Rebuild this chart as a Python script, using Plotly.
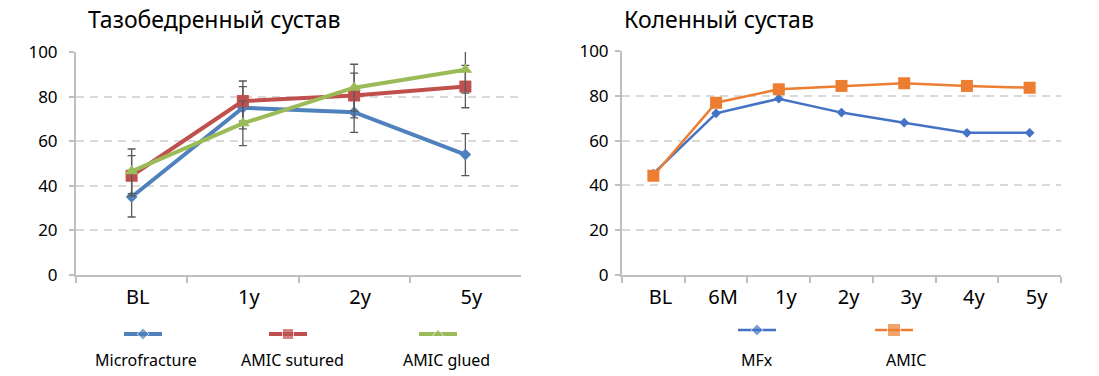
import plotly.graph_objects as go

W, H = 1099, 376

# ---------------- data ----------------
hip_title = "Тазобедренный сустав"
knee_title = "Коленный сустав"

hip_categories = ["BL", "1y", "2y", "5y"]
hip_microfracture = [35, 75, 73, 54]
hip_microfracture_err = [9, 9.5, 9, 9.4]
hip_amic_sutured = [44.5, 78, 80.5, 84.5]
hip_amic_sutured_err = [9, 9, 10, 9.5]
hip_amic_glued = [46.5, 68, 84, 92]
hip_amic_glued_err = [10, 10, 10.5, 10.4]

knee_categories = ["BL", "6M", "1y", "2y", "3y", "4y", "5y"]
knee_mfx = [45.3, 72.2, 78.7, 72.5, 68, 63.5, 63.5]
knee_amic = [44.3, 76.9, 82.9, 84.4, 85.6, 84.4, 83.6]

hip_names = ["Microfracture", "AMIC sutured", "AMIC glued"]
knee_names = ["MFx", "AMIC"]

# ---------------- styles ----------------
FONT = "Noto Sans"
C_BLUE_L, C_RED, C_GREEN = "#4F81BD", "#C0504D", "#9BBB59"
C_BLUE_R, C_ORANGE = "#4472C4", "#ED7D31"
AXIS_C = "#BFBFBF"
GRID_C = "#D9D9D9"
ERR_C = "#595959"

fig = go.Figure()

hip_series = [
    (hip_names[0], hip_microfracture, hip_microfracture_err, C_BLUE_L, "diamond", 9),
    (hip_names[1], hip_amic_sutured, hip_amic_sutured_err, C_RED, "square", 12),
    (hip_names[2], hip_amic_glued, hip_amic_glued_err, C_GREEN, "triangle-up", 12),
]
for name, vals, err, col, sym, sz in hip_series:
    fig.add_trace(go.Scatter(
        x=hip_categories, y=vals, name=name, mode="lines+markers",
        line=dict(color=col, width=4),
        marker=dict(symbol=sym, size=sz, color=col),
        error_y=dict(type="data", array=err, visible=True, color=ERR_C, thickness=1.3, width=4),
        cliponaxis=False, showlegend=False, xaxis="x", yaxis="y",
    ))

knee_series = [
    (knee_names[0], knee_mfx, C_BLUE_R, "diamond", 7.5),
    (knee_names[1], knee_amic, C_ORANGE, "square", 12),
]
for name, vals, col, sym, sz in knee_series:
    fig.add_trace(go.Scatter(
        x=knee_categories, y=vals, name=name, mode="lines+markers",
        line=dict(color=col, width=2.5),
        marker=dict(symbol=sym, size=sz, color=col),
        cliponaxis=False, showlegend=False, xaxis="x2", yaxis="y2",
    ))

# ---------------- custom legends (symbol above text) ----------------
annotations = []
leg_items = [
    (143, 334, 4, C_BLUE_L, "diamond", 9, hip_names[0], 146),
    (288, 334, 4, C_RED, "square", 11, hip_names[1], 292),
    (438, 334, 4, C_GREEN, "triangle-up", 10, hip_names[2], 446),
    (757, 330, 2.5, C_BLUE_R, "diamond", 9, knee_names[0], 757),
    (894, 330, 2.5, C_ORANGE, "square", 13, knee_names[1], 906),
]
for xc, yc, lw, col, sym, sz, label, tx in leg_items:
    fig.add_trace(go.Scatter(
        x=[xc - 19, xc, xc + 19], y=[yc, yc, yc], mode="lines+markers",
        line=dict(color=col, width=lw),
        marker=dict(symbol=sym, size=[0, sz, 0], color=col),
        showlegend=False, hoverinfo="skip", xaxis="x3", yaxis="y3",
    ))
    annotations.append(dict(
        x=tx / W, y=1 - 360 / H, xref="paper", yref="paper", text=label,
        showarrow=False, xanchor="center", yanchor="middle",
        font=dict(family=FONT, size=16, color="#000000"),
    ))

annotations.append(dict(x=86 / W, y=1 - 19 / H, xref="paper", yref="paper", text=hip_title,
                        showarrow=False, xanchor="left", yanchor="middle",
                        font=dict(family=FONT, size=23, color="#000000")))
annotations.append(dict(x=622 / W, y=1 - 19 / H, xref="paper", yref="paper", text=knee_title,
                        showarrow=False, xanchor="left", yanchor="middle",
                        font=dict(family=FONT, size=23, color="#000000")))


def xax(domain, n, anchor, shift):
    return dict(domain=domain, type="category", range=[-0.5, n - 0.5], anchor=anchor,
                showline=True, linecolor=AXIS_C, linewidth=2, automargin=False,
                ticks="outside", tickson="boundaries", ticklen=6, tickcolor=AXIS_C, tickwidth=2,
                showgrid=False, zeroline=False, fixedrange=True,
                tickfont=dict(family=FONT, size=20, color="#000000"),
                ticklabelshift=shift, ticklabelstandoff=3)


def yax(domain, anchor, standoff):
    return dict(domain=domain, range=[0, 100], dtick=20, tick0=0, anchor=anchor,
                showline=True, linecolor=AXIS_C, linewidth=2, automargin=False,
                ticks="outside", ticklen=5, tickcolor=AXIS_C, tickwidth=2,
                showgrid=True, gridcolor=GRID_C, gridwidth=1.5, griddash="8px,6px",
                zeroline=False, fixedrange=True,
                tickfont=dict(family=FONT, size=17, color="#000000"),
                ticklabelstandoff=standoff)


fig.update_layout(
    width=W, height=H,
    margin=dict(l=0, r=0, t=0, b=0, pad=0, autoexpand=False),
    paper_bgcolor="white", plot_bgcolor="rgba(0,0,0,0)",
    font=dict(family=FONT, color="#000000"),
    xaxis=xax([76 / W, 521 / W], len(hip_categories), "y", 6),
    yaxis=yax([1 - 275 / H, 1 - 52 / H], "x", 8),
    xaxis2=xax([622 / W, 1061 / W], len(knee_categories), "y2", 7),
    yaxis2=yax([1 - 275 / H, 1 - 51 / H], "x2", 3),
    xaxis3=dict(domain=[0, 1], range=[0, W], visible=False, fixedrange=True, anchor="y3",
                automargin=False),
    yaxis3=dict(domain=[0, 1], range=[H, 0], visible=False, fixedrange=True, anchor="x3",
                automargin=False),
    annotations=annotations,
    showlegend=False,
    hovermode=False,
)

fig.write_html(
    "out.html",
    config={"displayModeBar": False},
    post_script="document.body.style.margin='0';document.body.style.overflow='hidden';",
)
